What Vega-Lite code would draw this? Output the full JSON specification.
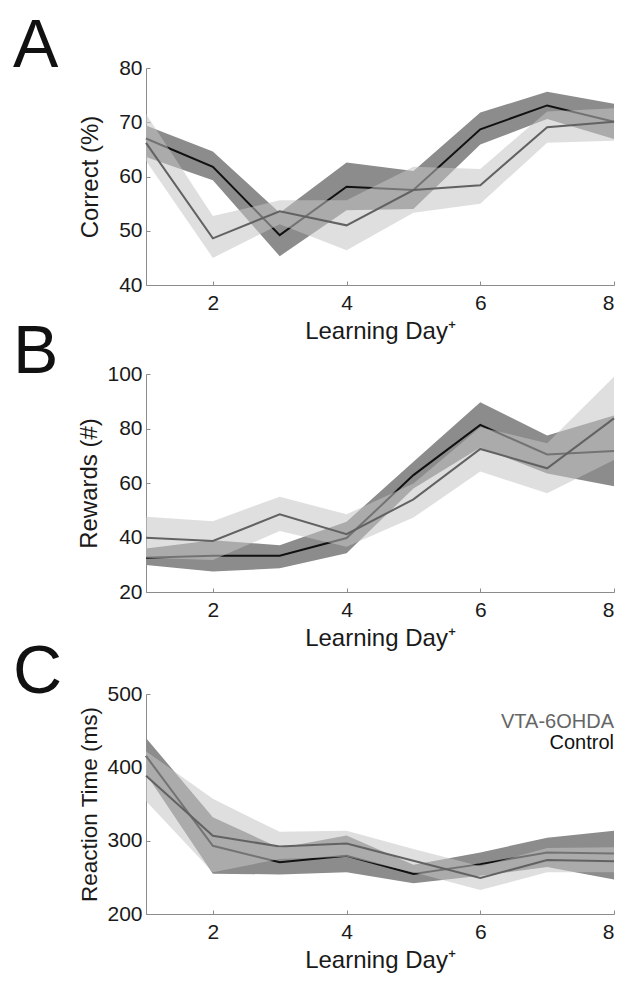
{
  "$schema": "https://vega.github.io/schema/vega-lite/v6.json",
  "padding": {"left": 13, "top": 13, "right": 4, "bottom": 4},
  "config": {
    "font": "Liberation Sans",
    "view": {"stroke": null},
    "axis": {
      "grid": false,
      "domainColor": "#8c8c8c",
      "tickColor": "#8c8c8c",
      "domainWidth": 1,
      "tickWidth": 1,
      "tickSize": -4,
      "labelFont": "Liberation Sans",
      "titleFont": "Liberation Sans",
      "labelFontSize": 21,
      "titleFontSize": 24,
      "titleFontWeight": "normal",
      "labelColor": "#1a1a1a",
      "titleColor": "#1a1a1a"
    },
    "axisX": {"labelPadding": 11, "titlePadding": 6},
    "axisY": {"labelPadding": 8}
  },
  "datasets": {
    "A": [
      {"group": "Control", "day": 1, "mean": 67.0, "lo": 63.6, "hi": 69.4},
      {"group": "Control", "day": 2, "mean": 61.8, "lo": 59.3, "hi": 64.6},
      {"group": "Control", "day": 3, "mean": 49.2, "lo": 45.3, "hi": 53.3},
      {"group": "Control", "day": 4, "mean": 58.1, "lo": 53.8, "hi": 62.6},
      {"group": "Control", "day": 5, "mean": 57.5, "lo": 54.0, "hi": 61.0},
      {"group": "Control", "day": 6, "mean": 68.7, "lo": 65.9, "hi": 71.8},
      {"group": "Control", "day": 7, "mean": 73.1, "lo": 70.6, "hi": 75.6},
      {"group": "Control", "day": 8, "mean": 70.1, "lo": 66.9, "hi": 73.4},
      {"group": "VTA-6OHDA", "day": 1, "mean": 66.2, "lo": 62.9, "hi": 71.5},
      {"group": "VTA-6OHDA", "day": 2, "mean": 48.6, "lo": 45.0, "hi": 52.7},
      {"group": "VTA-6OHDA", "day": 3, "mean": 53.6, "lo": 51.2, "hi": 55.6},
      {"group": "VTA-6OHDA", "day": 4, "mean": 51.0, "lo": 46.4, "hi": 55.6},
      {"group": "VTA-6OHDA", "day": 5, "mean": 57.5, "lo": 53.3, "hi": 61.8},
      {"group": "VTA-6OHDA", "day": 6, "mean": 58.4, "lo": 55.0, "hi": 61.4},
      {"group": "VTA-6OHDA", "day": 7, "mean": 69.1, "lo": 66.2, "hi": 72.0},
      {"group": "VTA-6OHDA", "day": 8, "mean": 70.1, "lo": 66.6, "hi": 72.6}
    ],
    "B": [
      {"group": "Control", "day": 1, "mean": 32.6, "lo": 29.9, "hi": 36.0},
      {"group": "Control", "day": 2, "mean": 33.3, "lo": 27.5, "hi": 39.0},
      {"group": "Control", "day": 3, "mean": 33.3, "lo": 28.7, "hi": 37.2},
      {"group": "Control", "day": 4, "mean": 39.8, "lo": 34.2, "hi": 45.8},
      {"group": "Control", "day": 5, "mean": 62.9, "lo": 58.0, "hi": 67.8},
      {"group": "Control", "day": 6, "mean": 81.3, "lo": 73.0, "hi": 89.6},
      {"group": "Control", "day": 7, "mean": 70.5, "lo": 63.5, "hi": 77.4},
      {"group": "Control", "day": 8, "mean": 71.7, "lo": 58.8, "hi": 84.8},
      {"group": "VTA-6OHDA", "day": 1, "mean": 39.9, "lo": 32.6, "hi": 47.6},
      {"group": "VTA-6OHDA", "day": 2, "mean": 38.7, "lo": 31.7, "hi": 46.0},
      {"group": "VTA-6OHDA", "day": 3, "mean": 48.5, "lo": 42.4, "hi": 55.0},
      {"group": "VTA-6OHDA", "day": 4, "mean": 41.2, "lo": 36.6, "hi": 48.5},
      {"group": "VTA-6OHDA", "day": 5, "mean": 54.0, "lo": 47.3, "hi": 59.8},
      {"group": "VTA-6OHDA", "day": 6, "mean": 72.5, "lo": 64.2, "hi": 80.5},
      {"group": "VTA-6OHDA", "day": 7, "mean": 65.4, "lo": 56.2, "hi": 74.6},
      {"group": "VTA-6OHDA", "day": 8, "mean": 83.7, "lo": 68.4, "hi": 99.0}
    ],
    "C": [
      {"group": "Control", "day": 1, "mean": 415.5, "lo": 391, "hi": 440},
      {"group": "Control", "day": 2, "mean": 293, "lo": 255, "hi": 332},
      {"group": "Control", "day": 3, "mean": 270.5, "lo": 254, "hi": 290},
      {"group": "Control", "day": 4, "mean": 279.5, "lo": 257, "hi": 307},
      {"group": "Control", "day": 5, "mean": 254.5, "lo": 242, "hi": 267},
      {"group": "Control", "day": 6, "mean": 268, "lo": 252, "hi": 284},
      {"group": "Control", "day": 7, "mean": 284, "lo": 264, "hi": 304},
      {"group": "Control", "day": 8, "mean": 282.5, "lo": 247, "hi": 313.5},
      {"group": "VTA-6OHDA", "day": 1, "mean": 388.5, "lo": 354, "hi": 422},
      {"group": "VTA-6OHDA", "day": 2, "mean": 306.7, "lo": 257, "hi": 357},
      {"group": "VTA-6OHDA", "day": 3, "mean": 292, "lo": 275, "hi": 312},
      {"group": "VTA-6OHDA", "day": 4, "mean": 296, "lo": 278, "hi": 313.5},
      {"group": "VTA-6OHDA", "day": 5, "mean": 272.6, "lo": 257, "hi": 288.5},
      {"group": "VTA-6OHDA", "day": 6, "mean": 249, "lo": 232.6, "hi": 265},
      {"group": "VTA-6OHDA", "day": 7, "mean": 273.5, "lo": 257, "hi": 290},
      {"group": "VTA-6OHDA", "day": 8, "mean": 272, "lo": 257, "hi": 291}
    ],
    "legendC": [
      {"group": "VTA-6OHDA"},
      {"group": "Control"}
    ]
  },
  "bounds": "flush",
  "spacing": 89,
  "resolve": {"scale": {"color": "independent", "x": "independent", "y": "independent"}},
  "vconcat": [
    {
      "width": 468,
      "height": 217,
      "title": {"text": "A", "anchor": "start", "frame": "group", "fontSize": 68, "fontWeight": "normal", "font": "Liberation Sans", "color": "#111111", "baseline": "alphabetic", "offset": -78, "dx": -133},
      "data": {"name": "A"},
      "encoding": {
        "x": {"field": "day", "type": "quantitative", "scale": {"domain": [1, 8], "nice": false, "zero": false}, "axis": {"values": [2, 4, 6, 8], "format": "d", "title": "Learning Day⁺"}}
      },
      "layer": [
        {
          "transform": [{"filter": "datum.group === 'Control'"}],
          "mark": {"type": "area", "color": "#8c8c8c", "opacity": 1},
          "encoding": {
            "y": {"field": "lo", "type": "quantitative", "scale": {"domain": [40, 80], "nice": false, "zero": false}, "axis": {"values": [40, 50, 60, 70, 80], "title": "Correct (%)", "titlePadding": 16}},
            "y2": {"field": "hi"}
          }
        },
        {
          "transform": [{"filter": "datum.group === 'Control'"}],
          "mark": {"type": "line", "color": "#111111", "strokeWidth": 2},
          "encoding": {"y": {"field": "mean", "type": "quantitative"}}
        },
        {
          "transform": [{"filter": "datum.group === 'VTA-6OHDA'"}],
          "mark": {"type": "area", "color": "#c4c4c4", "opacity": 0.55},
          "encoding": {"y": {"field": "lo", "type": "quantitative"}, "y2": {"field": "hi"}}
        },
        {
          "transform": [{"filter": "datum.group === 'VTA-6OHDA'"}],
          "mark": {"type": "line", "color": "#626262", "strokeWidth": 2},
          "encoding": {"y": {"field": "mean", "type": "quantitative"}}
        }
      ]
    },
    {
      "bounds": "flush",
      "spacing": 102,
      "resolve": {"scale": {"color": "independent", "x": "independent", "y": "independent"}},
      "vconcat": [
        {
          "width": 468,
          "height": 218,
          "title": {"text": "B", "anchor": "start", "frame": "group", "fontSize": 68, "fontWeight": "normal", "font": "Liberation Sans", "color": "#111111", "baseline": "alphabetic", "offset": -78, "dx": -133},
          "data": {"name": "B"},
          "encoding": {
            "x": {"field": "day", "type": "quantitative", "scale": {"domain": [1, 8], "nice": false, "zero": false}, "axis": {"values": [2, 4, 6, 8], "format": "d", "title": "Learning Day⁺"}}
          },
          "layer": [
            {
              "transform": [{"filter": "datum.group === 'Control'"}],
              "mark": {"type": "area", "color": "#8c8c8c", "opacity": 1},
              "encoding": {
                "y": {"field": "lo", "type": "quantitative", "scale": {"domain": [20, 100], "nice": false, "zero": false}, "axis": {"values": [20, 40, 60, 80, 100], "title": "Rewards (#)", "titlePadding": 5}},
                "y2": {"field": "hi"}
              }
            },
            {
              "transform": [{"filter": "datum.group === 'Control'"}],
              "mark": {"type": "line", "color": "#111111", "strokeWidth": 2},
              "encoding": {"y": {"field": "mean", "type": "quantitative"}}
            },
            {
              "transform": [{"filter": "datum.group === 'VTA-6OHDA'"}],
              "mark": {"type": "area", "color": "#c4c4c4", "opacity": 0.55},
              "encoding": {"y": {"field": "lo", "type": "quantitative"}, "y2": {"field": "hi"}}
            },
            {
              "transform": [{"filter": "datum.group === 'VTA-6OHDA'"}],
              "mark": {"type": "line", "color": "#626262", "strokeWidth": 2},
              "encoding": {"y": {"field": "mean", "type": "quantitative"}}
            }
          ]
        },
        {
          "width": 468,
          "height": 220,
          "title": {"text": "C", "anchor": "start", "frame": "group", "fontSize": 68, "fontWeight": "normal", "font": "Liberation Sans", "color": "#111111", "baseline": "alphabetic", "offset": -78, "dx": -133},
          "resolve": {"scale": {"y": "independent", "color": "independent"}, "axis": {"y": "independent"}},
          "layer": [
            {
              "data": {"name": "C"},
              "encoding": {
                "x": {"field": "day", "type": "quantitative", "scale": {"domain": [1, 8], "nice": false, "zero": false}, "axis": {"values": [2, 4, 6, 8], "format": "d", "title": "Learning Day⁺"}}
              },
              "layer": [
                {
                  "transform": [{"filter": "datum.group === 'Control'"}],
                  "mark": {"type": "area", "color": "#8c8c8c", "opacity": 1},
                  "encoding": {
                    "y": {"field": "lo", "type": "quantitative", "scale": {"domain": [200, 500], "nice": false, "zero": false}, "axis": {"values": [200, 300, 400, 500], "title": "Reaction Time (ms)", "titlePadding": 5, "titleFontSize": 22.5}},
                    "y2": {"field": "hi"}
                  }
                },
                {
                  "transform": [{"filter": "datum.group === 'Control'"}],
                  "mark": {"type": "line", "color": "#111111", "strokeWidth": 2},
                  "encoding": {"y": {"field": "mean", "type": "quantitative"}}
                },
                {
                  "transform": [{"filter": "datum.group === 'VTA-6OHDA'"}],
                  "mark": {"type": "area", "color": "#c4c4c4", "opacity": 0.55},
                  "encoding": {"y": {"field": "lo", "type": "quantitative"}, "y2": {"field": "hi"}}
                },
                {
                  "transform": [{"filter": "datum.group === 'VTA-6OHDA'"}],
                  "mark": {"type": "line", "color": "#626262", "strokeWidth": 2},
                  "encoding": {"y": {"field": "mean", "type": "quantitative"}}
                }
              ]
            },
            {
              "data": {"name": "legendC"},
              "mark": {"type": "text", "align": "right", "baseline": "alphabetic", "fontSize": 20, "font": "Liberation Sans"},
              "encoding": {
                "x": {"datum": 8, "type": "quantitative"},
                "y": {"field": "group", "type": "nominal", "scale": {"type": "point", "domain": ["VTA-6OHDA", "Control"], "range": [34, 55], "padding": 0}, "axis": null},
                "text": {"field": "group"},
                "color": {"field": "group", "type": "nominal", "scale": {"domain": ["VTA-6OHDA", "Control"], "range": ["#666666", "#111111"]}, "legend": null}
              }
            }
          ]
        }
      ]
    }
  ]
}
